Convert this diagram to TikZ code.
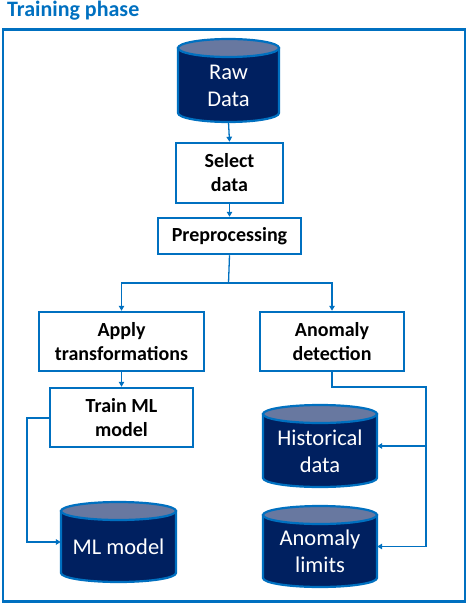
\documentclass[tikz,border=0pt]{standalone}
\usepackage{fontspec}
\setmainfont{Carlito}
\usetikzlibrary{arrows.meta}
\definecolor{frameblue}{HTML}{0070C0}
\definecolor{navy}{HTML}{002060}
\definecolor{lidgray}{HTML}{6878A0}
\newcommand{\mycyl}[6]{% xc, width, ytop, ybottom, name, text
  \pgfmathsetmacro\crx{#2/2}
  \filldraw[cylbody] (#1-\crx,#3) -- (#1-\crx,#4) arc[start angle=180,end angle=0,x radius=\crx,y radius=9] -- (#1+\crx,#3) -- cycle;
  \filldraw[cyllid] (#1,#3) ellipse[x radius=\crx,y radius=9];
  \node[cylnode,minimum width=#2,minimum height={#4-#3},label={[cyltext]center:{#6}}] (#5) at (#1,{(#3+#4)/2}) {};
}
\begin{document}
\begin{tikzpicture}[x=1pt,y=-1pt,
  box/.style={draw=frameblue,line width=2.5pt,fill=white,inner sep=0pt,align=center,
    font=\fontsize{20}{24}\selectfont\bfseries},
  cylbody/.style={draw=frameblue,line width=2.2pt,fill=navy},
  cyllid/.style={draw=frameblue,line width=2.2pt,fill=lidgray},
  cylnode/.style={draw=none,inner sep=0pt},
  cyltext/.style={text=white,align=center,yshift=-5pt,font=\fontsize{22.5}{27}\selectfont},
  conn/.style={draw=frameblue,line width=1.3pt},
  arr/.style={conn,-{Triangle[length=5pt,width=5.5pt]}},
]
\useasboundingbox (0,0) rectangle (468,604);
\node[anchor=base west,text=frameblue,font=\fontsize{22}{25}\selectfont\bfseries,inner sep=0pt] (title) at (7,17) {Training phase};
\draw[frameblue,line width=2.5pt] (3.2,29.5) rectangle (465,601.5);

\mycyl{228.5}{101}{48}{113}{raw}{Raw\\Data}
\mycyl{118.5}{115}{511}{573}{mlm}{ML model}
\mycyl{320}{114}{414}{478}{hist}{Historical\\data}
\mycyl{320}{114}{515}{578}{lim}{Anomaly\\limits}

\node[box,minimum width=107,minimum height=60] (sel) at (229.5,173) {Select\\data};
\node[box,minimum width=143,minimum height=36] (pre) at (229.5,236) {Preprocessing};
\node[box,minimum width=165,minimum height=59] (app) at (121.5,341.5) {Apply\\transformations};
\node[box,minimum width=144,minimum height=59] (ad) at (332,341.5) {Anomaly\\detection};
\node[box,minimum width=143,minimum height=59] (tr) at (121.5,417.5) {Train ML\\model};

\coordinate (split) at (228.5,283);
\coordinate (ltrn) at (27,418);
\coordinate (rturn) at (426,387);

\draw[arr] (raw.south) ++(0,9) -- (sel.north);
\draw[arr] (sel.south) -- (pre.north);
\draw[conn] (pre.south) -- (split);
\draw[arr] (split) -| (app.north);
\draw[arr] (split) -| (ad.north);
\draw[arr] (app.south) -- (tr.north);
\draw[arr] (tr.west |- ltrn) -- (ltrn) |- (mlm.west);
\draw[arr] (ad.south) |- (rturn) |- (lim.east);
\draw[arr] (rturn |- hist.east) -- (hist.east);
\end{tikzpicture}
\end{document}
